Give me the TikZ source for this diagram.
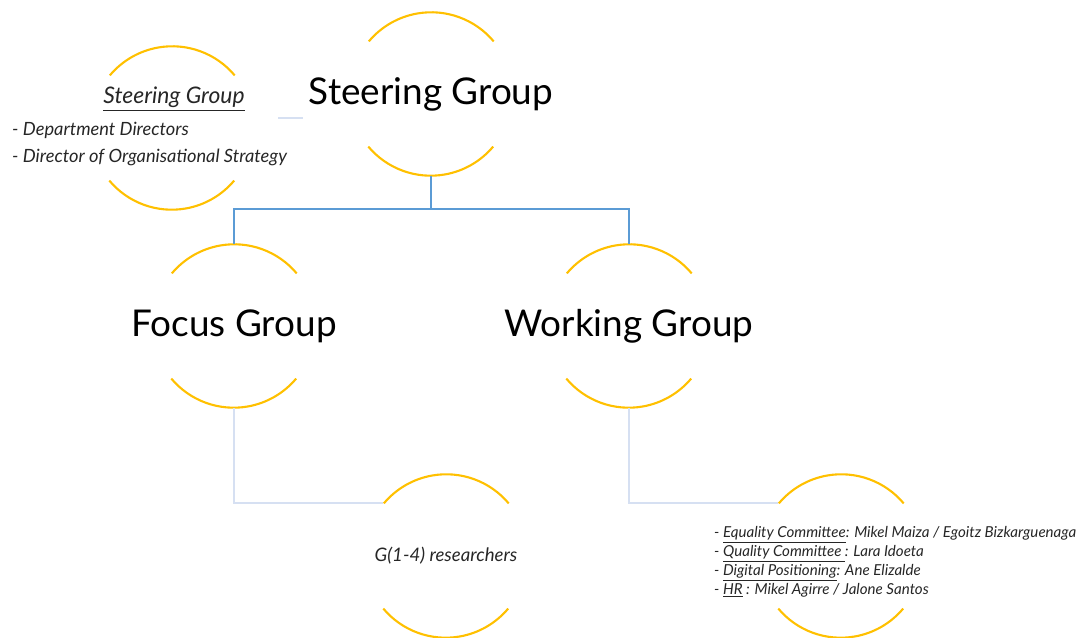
\documentclass[tikz,border=0pt]{standalone}
\usepackage{fontspec}
\setmainfont{Lato}
\usetikzlibrary{positioning}

\definecolor{ringgold}{HTML}{FFC000}
\definecolor{treeblue}{HTML}{5B9BD5}
\definecolor{paleblue}{HTML}{D6E0F2}
\definecolor{inktext}{HTML}{262626}

\tikzset{
  ring/.style={circle, minimum size=3.26cm, inner sep=0pt},
  ringarc/.style={draw=ringgold, line width=1.2pt},
  tree/.style={draw=treeblue, line width=1.1pt},
  pale/.style={draw=paleblue, line width=1.1pt},
  bigtext/.style={font=\fontsize{21}{25}\selectfont},
  smalltext/.style={font=\fontsize{10.4}{15.9}\selectfont\itshape, text=inktext},
  listtext/.style={font=\fontsize{8.6}{10.8}\selectfont\itshape, text=inktext}
}

% top and bottom arcs of a ring
\newcommand{\ringarcs}[1]{%
  \draw[ringarc] (#1.40) arc (40:140:1.63cm);
  \draw[ringarc] (#1.220) arc (220:320:1.63cm);
}

\begin{document}
\begin{tikzpicture}[x=0.02cm, y=0.02cm]

\useasboundingbox (0,0) rectangle (1077,638);

% Rings
\node[ring, label={[bigtext, name=steertext]center:Steering Group}] (steer) at (431,544) {};
\node[ring] (info) at (172,510) {};
\node[ring, label={[smalltext, font=\fontsize{10.6}{13}\selectfont\itshape]center:G(1-4) researchers}] (res) at (446,82) {};
\node[ring, label={[bigtext]center:Focus Group}] (focus) at (234,312) {};
\node[ring, label={[bigtext]center:Working Group}] (work) at (629,312) {};
\node[ring] (comm) at (841,82) {};

\ringarcs{steer}
\ringarcs{info}
\ringarcs{focus}
\ringarcs{work}
\ringarcs{res}
\ringarcs{comm}

% Steering group members
\node[smalltext, font=\fontsize{13}{16}\selectfont\itshape] (infotitle) at (174,539) {\underline{Steering Group}};
\node[smalltext, align=left, anchor=west] (infolist) at (6,494)
  {- Department Directors\\- Director of Organisational Strategy};

% Committees
\node[listtext, align=left, anchor=west] (commlist) at (708,76)
  {- \underline{Equality Committee}: Mikel Maiza / Egoitz Bizkarguenaga\\
   - \underline{Quality Committee }: Lara Idoeta\\
   - \underline{Digital Positioning}: Ane Elizalde\\
   - \underline{HR} : Mikel Agirre / Jalone Santos};

% Connectors
\draw[tree] (steer.south) -- ++(0,-33) -| (focus.north);
\draw[tree] (steer.south) -- ++(0,-33) -| (work.north);
\draw[pale] (focus.south) |- (res.140);
\draw[pale] (work.south) |- (comm.140);
\coordinate (link) at (278,520);
\draw[pale] (link) -- (link -| steertext.west);

\end{tikzpicture}
\end{document}
